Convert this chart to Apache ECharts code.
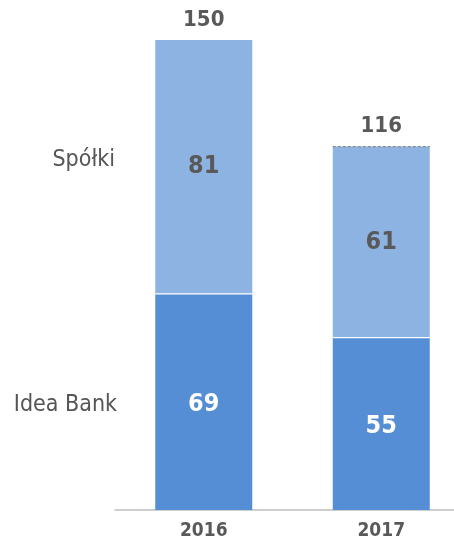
<!DOCTYPE html>
<html><head><meta charset="utf-8">
<script src="https://cdn.jsdelivr.net/npm/echarts@6/dist/echarts.min.js"></script>
<style>html,body{margin:0;padding:0;background:#fff;overflow:hidden;width:454px;height:541px}#c{width:470px;height:541px}</style>
</head><body><div id="c"></div>
<script>
const categories = ['2016', '2017'];
const ideaBank = [69, 55];
const spolki = [81, 61];
const totals = [150, 116];
const seriesNames = ['Idea Bank', 'Spółki'];

const FONT = '"DejaVu Sans Condensed", "DejaVu Sans", Roboto, sans-serif';
const NARROW = '"Liberation Sans Narrow", "DejaVu Sans Condensed", sans-serif';
const chart = echarts.init(document.getElementById('c'));
const BW = 97;
chart.setOption({
  animation: false,
  grid: { left: 115, right: 0, top: 40, bottom: 30 },
  xAxis: {
    type: 'category', data: categories,
    axisLine: { lineStyle: { color: '#bfbfbf', width: 1.5 } },
    axisTick: { show: false },
    axisLabel: { color: '#595959', fontSize: 19, fontWeight: 'bold', fontFamily: FONT, margin: 12 }
  },
  yAxis: { type: 'value', min: 0, max: 150, show: false, splitLine: { show: false } },
  series: [
    {
      name: seriesNames[0], type: 'bar', stack: 's', data: ideaBank, barWidth: BW,
      itemStyle: { color: '#558ed5' },
      label: { show: true, position: 'inside', color: '#fff', fontSize: 25, fontWeight: 'bold', fontFamily: NARROW, offset: [0, 3] }
    },
    {
      name: seriesNames[1], type: 'bar', stack: 's', data: spolki, barWidth: BW,
      itemStyle: { color: '#8db3e2' },
      label: { show: true, position: 'inside', color: '#595959', fontSize: 25, fontWeight: 'bold', fontFamily: NARROW }
    },
    {
      name: 'Razem', type: 'bar', data: totals, barWidth: BW, barGap: '-100%', z: 1,
      itemStyle: { color: 'rgba(0,0,0,0)' },
      label: { show: true, position: 'top', distance: 9, color: '#595959', fontSize: 22, fontWeight: 'bold', fontFamily: NARROW }
    }
  ]
});

function addGraphics() {
  const gridLeft = 115;
  const ySp = chart.convertToPixel({ yAxisIndex: 0 }, ideaBank[0] + spolki[0] / 2);
  const yIb = chart.convertToPixel({ yAxisIndex: 0 }, ideaBank[0] / 2);
  const ySplit0 = chart.convertToPixel({ yAxisIndex: 0 }, ideaBank[0]);
  const ySplit1 = chart.convertToPixel({ yAxisIndex: 0 }, ideaBank[1]);
  const yTop1 = chart.convertToPixel({ yAxisIndex: 0 }, totals[1]);
  const cx0 = chart.convertToPixel({ xAxisIndex: 0 }, categories[0]);
  const cx1 = chart.convertToPixel({ xAxisIndex: 0 }, categories[1]);
  chart.setOption({
    graphic: [
      { type: 'text', x: gridLeft, y: ySp - 7, style: { text: seriesNames[1], align: 'right', verticalAlign: 'middle', fill: '#555555', font: '23px ' + FONT } },
      { type: 'text', x: gridLeft + 2, y: yIb + 3, style: { text: seriesNames[0], align: 'right', verticalAlign: 'middle', fill: '#555555', font: '23px ' + FONT } },
      { type: 'line', z: 10, shape: { x1: cx0 - BW / 2, y1: ySplit0, x2: cx0 + BW / 2, y2: ySplit0 }, style: { stroke: '#fff', lineWidth: 1.2 } },
      { type: 'line', z: 10, shape: { x1: cx1 - BW / 2, y1: ySplit1, x2: cx1 + BW / 2, y2: ySplit1 }, style: { stroke: '#fff', lineWidth: 1.2 } },
      { type: 'line', z: 10, shape: { x1: cx1 - BW / 2, y1: yTop1, x2: cx1 + BW / 2, y2: yTop1 }, style: { stroke: '#8c8c8c', lineWidth: 1.2, lineDash: [3, 2] } }
    ]
  });
}
addGraphics();
</script></body></html>
